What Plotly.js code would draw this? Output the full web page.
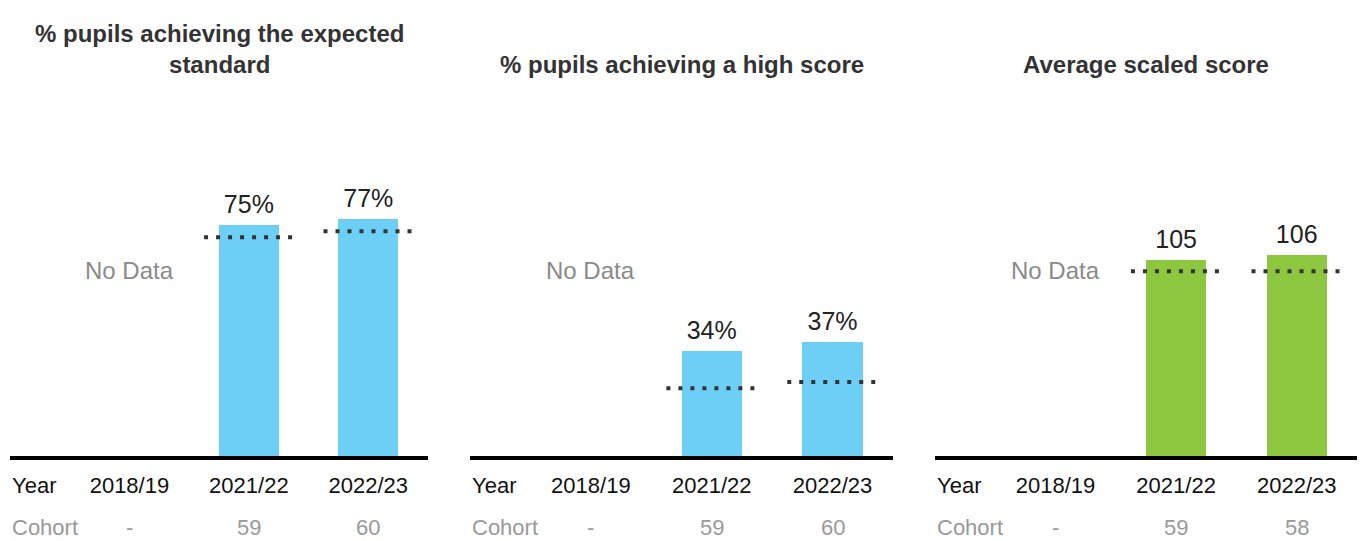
<!DOCTYPE html>
<html><head><meta charset="utf-8">
<script src="https://cdn.plot.ly/plotly-3.0.1.min.js"></script>
<style>html,body{margin:0;padding:0;background:#fff}#chart{width:1363px;height:541px}</style>
</head><body><div id="chart"></div>
<script>
// ---- data ----
const years = ["2018/19", "2021/22", "2022/23"];
const panelTitles = ["% pupils achieving the expected<br>standard", "% pupils achieving a high score", "Average scaled score"];
const expectedStd = [null, 75, 77];
const expectedStdNational = [null, 71, 73];
const highScore = [null, 34, 37];
const highScoreNational = [null, 22, 24];
const scaledScore = [null, 105.4, 106.1];
const scaledScoreNational = [null, 104, 104];
const cohortExpected = ["-", "59", "60"];
const cohortHigh = ["-", "59", "60"];
const cohortScaled = ["-", "59", "58"];
const rowLabels = ["Year", "Cohort"];
const noDataText = "No Data";

// ---- styling ----
const FONT = "'Liberation Sans', Arial, sans-serif";
const W = 1363, H = 541;
const panels = [
  {vals: expectedStd, nat: expectedStdNational, cohort: cohortExpected, color: "#6dcff6", fmt: "%{y:.0f}%", range: [0, 100], px: [10, 428]},
  {vals: highScore, nat: highScoreNational, cohort: cohortHigh, color: "#6dcff6", fmt: "%{y:.0f}%", range: [0, 100], px: [470, 893]},
  {vals: scaledScore, nat: scaledScoreNational, cohort: cohortScaled, color: "#8dc63f", fmt: "%{y:.0f}", range: [80, 120], px: [935, 1357]}
];
const plotTop = 148, plotBottom = 456;
const yDomain = [(H - plotBottom) / H, (H - plotTop) / H];
const py = p => (H - p) / H;

const data = [];
const layout = {
  width: W, height: H,
  margin: {l: 0, r: 0, t: 0, b: 0},
  paper_bgcolor: "#fff", plot_bgcolor: "#fff",
  showlegend: false,
  bargap: 0,
  font: {family: FONT, color: "#222"},
  annotations: []
};

panels.forEach((p, k) => {
  const n = k === 0 ? "" : String(k + 1);
  const xa = "x" + n, ya = "y" + n;
  const idx = years.map((_, i) => i);
  data.push({
    type: "bar", x: idx, y: p.vals, xaxis: xa, yaxis: ya,
    width: 0.5,
    marker: {color: p.color, line: {width: 0}},
    hoverinfo: "skip"
  });
  // value labels above bars
  data.push({
    type: "scatter", mode: "markers+text", x: idx, y: p.vals, xaxis: xa, yaxis: ya,
    marker: {size: 8, color: "rgba(0,0,0,0)"},
    texttemplate: p.fmt, textposition: "top center", cliponaxis: false,
    textfont: {family: FONT, size: 25, color: "#222"},
    hoverinfo: "skip"
  });
  p.nat.forEach((v, i) => {
    if (v === null) return;
    data.push({
      type: "scatter", mode: "lines", x: [i - 0.375, i + 0.375], y: [v, v],
      xaxis: xa, yaxis: ya,
      line: {color: "#333", width: 4, dash: "4px,8px"},
      hoverinfo: "skip", cliponaxis: false
    });
  });
  const d0 = p.px[0] / W, d1 = p.px[1] / W;
  layout["xaxis" + n] = {
    domain: [d0, d1], range: [-1, 2.5],
    tickvals: idx, ticktext: years,
    showline: true, linecolor: "#000", linewidth: 4,
    ticks: "", showgrid: false, zeroline: false, fixedrange: true,
    tickfont: {family: FONT, size: 22, color: "#111"},
    ticklabelstandoff: 7,
    anchor: ya
  };
  layout["yaxis" + n] = {
    domain: yDomain, range: p.range, visible: false, fixedrange: true, anchor: xa
  };
  // panel title
  layout.annotations.push({
    xref: "paper", yref: "paper", x: (d0 + d1) / 2, y: py(80), yanchor: "bottom", xanchor: "center",
    text: "<b>" + panelTitles[k] + "</b>", showarrow: false,
    font: {family: FONT, size: 24, color: "#333"}
  });
  // row labels
  layout.annotations.push({
    xref: "paper", yref: "paper", x: d0, y: py(485), xanchor: "left", yanchor: "middle",
    text: rowLabels[0], showarrow: false, font: {family: FONT, size: 22, color: "#111"}
  });
  layout.annotations.push({
    xref: "paper", yref: "paper", x: d0, y: py(527), xanchor: "left", yanchor: "middle",
    text: rowLabels[1], showarrow: false, font: {family: FONT, size: 22, color: "#999"}
  });
  p.cohort.forEach((c, i) => {
    layout.annotations.push({
      xref: xa, yref: "paper", x: i, y: py(527), xanchor: "center", yanchor: "middle",
      text: c, showarrow: false, font: {family: FONT, size: 22, color: "#999"}
    });
  });
  p.vals.forEach((v, i) => {
    if (v !== null) return;
    layout.annotations.push({
      xref: xa, yref: "paper", x: i, y: py(270), xanchor: "center", yanchor: "middle",
      text: noDataText, showarrow: false, font: {family: FONT, size: 24, color: "#8a8a8a"}
    });
  });
});

Plotly.newPlot("chart", data, layout, {displayModeBar: false, staticPlot: true});
</script>
</body></html>
